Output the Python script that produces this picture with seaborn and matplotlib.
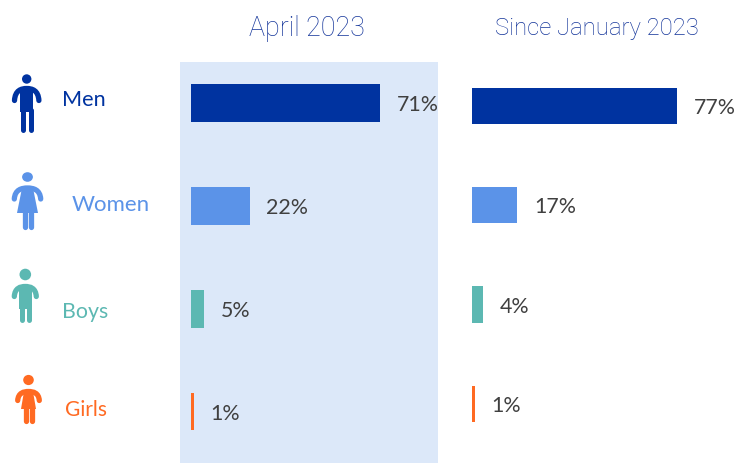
import matplotlib
matplotlib.use("Agg")
import matplotlib.pyplot as plt
import seaborn as sns
import pandas as pd
from matplotlib.patches import Polygon, Ellipse
from matplotlib.path import Path
from matplotlib.patches import PathPatch

categories = ["Men", "Women", "Boys", "Girls"]
april_values = [71, 22, 5, 1]
since_values = [77, 17, 4, 1]
titles = ["April 2023", "Since January 2023"]
colors = ["#0033A0", "#5B93E8", "#5CB8B2", "#FF6A22"]
label_text_color = "#404040"

W, H = 734, 464
sns.set_theme(style="white")
plt.rcParams["font.family"] = ["Lato", "DejaVu Sans"]
fig = plt.figure(figsize=(W / 100, H / 100), dpi=100, facecolor="white")


def axes_px(x0, y0, x1, y1):
    return fig.add_axes([x0 / W, 1 - y1 / H, (x1 - x0) / W, (y1 - y0) / H])


PX_PER_PCT = 2.66


def panel(x0, x1, zero_px, first_px, step_px, values, face):
    ax = axes_px(x0, 63, x1, 464)
    df = pd.DataFrame({"group": categories, "value": values})
    sns.barplot(data=df, y="group", x="value", hue="group", order=categories,
                hue_order=categories, palette=colors, width=0.365, dodge=False,
                legend=False, saturation=1, linewidth=0, ax=ax)
    ax.set_xlim((x0 - zero_px) / PX_PER_PCT, (x1 - zero_px) / PX_PER_PCT)
    ax.set_ylim((464 - first_px) / step_px, (63 - first_px) / step_px)
    ax.set_facecolor(face)
    ax.axis("on")
    ax.set_xticks([])
    ax.set_yticks([])
    ax.set_xlabel("")
    ax.set_ylabel("")
    for s in ax.spines.values():
        s.set_visible(False)
    for c in ax.containers:
        for t in ax.bar_label(c, fmt="%.0f%%", padding=12, fontsize=15.4,
                              color=label_text_color, clip_on=False):
            t.xyann = (t.xyann[0], -0.9)
    return ax


panel(180, 438, 191, 104.2, 102.8, april_values, "#DCE8F9")
panel(460, 734, 472, 106.8, 99.3, since_values, "none")

# overlay in pixel coordinates for titles, names and pictograms
ov = fig.add_axes([0, 0, 1, 1], zorder=5)
ov.set_xlim(0, W)
ov.set_ylim(H, 0)
ov.axis("off")

ov.text(307, 28, titles[0], ha="center", va="center", fontsize=19.4,
        color="#14359A", family=["Roboto", "DejaVu Sans"], fontweight="light")
ov.text(596.5, 28, titles[1], ha="center", va="center", fontsize=17.2,
        color="#14359A", family=["Roboto", "DejaVu Sans"], fontweight="light")

name_pos = [(62, 100), (72, 205), (62, 312), (65, 410)]
name_sizes = [15.6, 16, 15.4, 15]
for name, (x, y), col, fs in zip(categories, name_pos, colors, name_sizes):
    ov.text(x, y, name, ha="left", va="center", fontsize=fs, color=col)


def arms(cx, top, half, drop, lw, col):
    verts = [(cx - half, top + drop), (cx - half * 0.95, top + drop * 0.15), (cx - half * 0.45, top), (cx, top),
             (cx + half * 0.45, top), (cx + half * 0.95, top + drop * 0.15), (cx + half, top + drop)]
    codes = [Path.MOVETO] + [Path.CURVE4] * 6
    ov.add_patch(PathPatch(Path(verts, codes), fill=False, ec=col, lw=lw, capstyle="round"))


def legs(xs, y0, y1, lw, col):
    for x in xs:
        ov.plot([x, x], [y0, y1], color=col, lw=lw, solid_capstyle="round")


def male(cx, head_y, r, top, half, drop, torso_half, hip, foot, col):
    ov.add_patch(Ellipse((cx, head_y), 2 * r, 2 * r, color=col, lw=0))
    arms(cx, top, half, drop, 3.8, col)
    ov.add_patch(Polygon([(cx - torso_half, top), (cx + torso_half, top),
                          (cx + torso_half, hip), (cx - torso_half, hip)], color=col, lw=0))
    legs([cx - torso_half + 2.4, cx + torso_half - 2.4], hip - 2, foot, 3.6, col)


def female(cx, head_y, rx, ry, top, half, drop, sh, hem_half, hem, foot, col):
    ov.add_patch(Ellipse((cx, head_y), 2 * rx, 2 * ry, color=col, lw=0))
    arms(cx, top, half, drop, 3.8, col)
    ov.add_patch(Polygon([(cx - sh, top), (cx + sh, top),
                          (cx + hem_half, hem), (cx - hem_half, hem)], color=col, lw=0))
    legs([cx - 3, cx + 3], hem - 1, foot, 3.8, col)


male(26.7, 80, 4.7, 89.5, 12.2, 12, 6.3, 113, 130.5, colors[0])
female(27.5, 178, 5.4, 4.8, 189, 13.2, 11, 5.5, 10.5, 214, 227.5, colors[1])
male(25.3, 275.5, 5.8, 287.5, 11, 10, 6.2, 310, 321, colors[2])
female(28.5, 381, 5.3, 5.1, 392.5, 10.8, 9, 4.5, 7.5, 410, 422, colors[3])

fig.savefig("out.png", dpi=100)
